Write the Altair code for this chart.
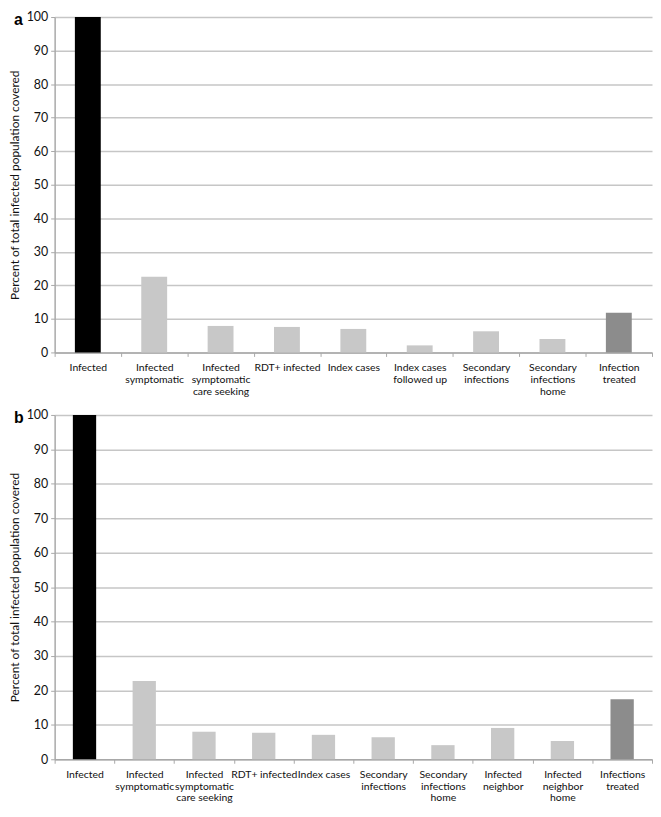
import altair as alt
import pandas as pd

# ---- data ----
cats_a = ["Infected", "Infected|symptomatic", "Infected|symptomatic|care seeking",
          "RDT+ infected", "Index cases", "Index cases|followed up",
          "Secondary|infections", "Secondary|infections|home", "Infection|treated"]
vals_a = [100, 22.6, 7.9, 7.6, 7.0, 2.1, 6.3, 4.0, 11.8]
stage_a = ["infected", "cascade", "cascade", "cascade", "cascade", "cascade",
           "cascade", "cascade", "treated"]

cats_b = ["Infected", "Infected|symptomatic", "Infected|symptomatic|care seeking",
          "RDT+ infected", "Index cases", "Secondary|infections",
          "Secondary|infections|home", "Infected|neighbor", "Infected|neighbor|home",
          "Infections|treated"]
vals_b = [100, 22.7, 8.0, 7.7, 7.1, 6.4, 4.1, 9.1, 5.3, 17.4]
stage_b = ["infected", "cascade", "cascade", "cascade", "cascade", "cascade",
           "cascade", "cascade", "cascade", "treated"]

y_ticks = list(range(0, 101, 10))
y_title = "Percent of total infected population covered"

FONT = "Lato"
GRID = "#c6c6c6"


def panel(cats, vals, stages, letter, w, h):
    df = pd.DataFrame({"cat": cats, "val": vals, "stage": stages})
    bars = alt.Chart(df).mark_bar(width={"band": 0.39}).encode(
        x=alt.X("cat:N", sort=cats,
                scale=alt.Scale(paddingInner=0, paddingOuter=0),
                axis=alt.Axis(title=None, labelAngle=0, labelOverlap=False,
                              labelExpr="split(datum.label, '|')",
                              labelFont=FONT, labelFontSize=10.5, labelColor="#111",
                              labelLineHeight=12, labelPadding=6, labelBaseline="top",
                              tickBand="extent", tickSize=4, tickColor="#a8a8a8",
                              domainColor="#a8a8a8", domainWidth=1.5, grid=False)),
        y=alt.Y("val:Q", scale=alt.Scale(domain=[0, 100], nice=False),
                axis=alt.Axis(values=y_ticks, title=y_title, grid=True,
                              gridColor=GRID, gridWidth=1.5,
                              labelFont=FONT, labelFontSize=12.5, labelColor="#111",
                              labelPadding=3,
                              titleFont=FONT, titleFontSize=12,
                              titleFontWeight="normal", titleColor="#111",
                              titlePadding=5,
                              tickSize=4, tickColor="#a8a8a8",
                              domainColor="#a8a8a8", domainWidth=1.5)),
        color=alt.Color("stage:N",
                        scale=alt.Scale(domain=["infected", "cascade", "treated"],
                                        range=["#000000", "#c8c8c8", "#8c8c8c"]),
                        legend=None),
    )
    lab = alt.Chart(pd.DataFrame({"panel": [letter]})).mark_text(
        font="Liberation Sans", fontSize=16, fontWeight="bold", align="left",
        baseline="alphabetic", color="#000"
    ).encode(text="panel:N", x=alt.value(-41), y=alt.value(8))
    return alt.layer(bars, lab).properties(width=w, height=h)


chart = alt.vconcat(
    panel(cats_a, vals_a, stage_a, "a", 602, 338),
    panel(cats_b, vals_b, stage_b, "b", 602, 347),
    spacing=12,
).properties(
    padding={"left": 0, "top": 0, "right": 0, "bottom": 0}
).configure_view(stroke=None)

chart.save("out.html", embed_options={"renderer": "svg", "actions": False})
